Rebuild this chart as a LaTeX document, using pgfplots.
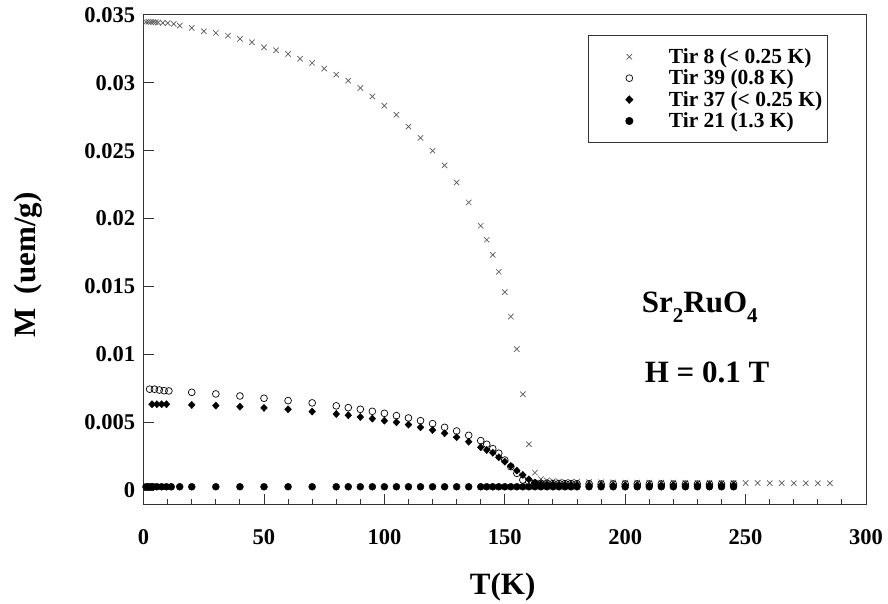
\documentclass[border=0pt]{standalone}
\usepackage{fontspec}
\setmainfont{Liberation Serif}
\usepackage{pgfplots}
\pgfplotsset{compat=1.18}
\newcommand{\sub}[1]{\raisebox{-0.32em}{\fontsize{21}{21}\selectfont #1}}
\begin{document}
\begin{tikzpicture}
\useasboundingbox (-143.6pt,-99pt) rectangle (744.4pt,504pt);
\begin{axis}[
  at={(0pt,0pt)}, anchor=south west,
  width=722.4pt, height=489pt, scale only axis,
  xmin=0, xmax=300, ymin=-0.00103, ymax=0.035,
  axis line style={line width=1pt, black!80},
  tick align=inside, xtick pos=bottom, ytick pos=left,
  xtick={0,50,100,150,200,250,300},
  xticklabels={0,50,100,150,200,250,300},
  minor x tick num=4,
  ytick={0,0.005,0.01,0.015,0.02,0.025,0.03,0.035},
  yticklabels={0,0.005,0.01,0.015,0.02,0.025,0.03,0.035},
  scaled y ticks=false,
  major tick length=10pt, minor tick length=5pt,
  tick style={line width=1pt, black!80},
  ticklabel style={font=\fontsize{22.5}{22.5}\selectfont\bfseries},
  /pgf/number format/assume math mode=true,
  xticklabel style={yshift=-22pt},
  yticklabel style={xshift=-5pt},
  xlabel={T(K)}, ylabel={M\hspace{0.45em}(uem/g)},
  every axis x label/.style={at={(axis description cs:0.497,-0.170)}, anchor=center, font=\fontsize{31}{31}\selectfont\bfseries},
  every axis y label/.style={at={(axis description cs:-0.160,0.489)}, anchor=center, rotate=90, font=\fontsize{31}{31}\selectfont\bfseries},
  legend style={at={(rel axis cs:0.947,0.959)}, anchor=north east, draw=black!80, line width=1pt,
    font=\fontsize{21.5}{21.5}\selectfont\bfseries, inner xsep=3pt, inner ysep=12pt, row sep=3pt,
    nodes={inner ysep=1pt}, cells={anchor=west}},
  legend image code/.code={\path (0pt,0pt) (74pt,0pt); \draw[#1] plot coordinates {(37pt,0pt)};},
]
\addplot[only marks, mark=x, mark size=3.8pt, mark options={black!65, line width=0.7pt}] coordinates {
(1,0.0345)(2,0.0345)(3,0.03449)(4,0.03448)(5,0.03447)(6,0.03445)(8,0.03442)(10,0.0344)(12.5,0.03435)
(15,0.03422)(20,0.03405)(25,0.0338)(30,0.03368)(35,0.03348)(40,0.03324)(45,0.03299)(50,0.03262)
(55,0.0324)(60,0.03213)(65,0.03178)(70,0.03147)(75,0.03105)(80,0.0306)(85,0.03016)(90,0.02962)
(95,0.029)(100,0.02832)(105,0.02765)(110,0.02677)(115,0.02594)(120,0.025)(125,0.02392)(130,0.02266)
(135,0.02119)(140,0.01947)(142.5,0.01844)(145,0.01733)(147.5,0.01608)(150,0.01458)(152.5,0.01278)
(155,0.01038)(157.5,0.00706)(160,0.00337)(162.5,0.00128)(165,0.0008)(167.5,0.0007)(170,0.00065)
(172.5,0.00062)(175,0.0006)(177.5,0.0006)(180,0.0006)(185,0.00058)(190,0.00057)(195,0.00056)
(200,0.00055)(205,0.00055)(210,0.00055)(215,0.00055)(220,0.00055)(225,0.00054)(230,0.00054)
(235,0.00054)(240,0.00053)(245,0.00053)(250,0.00052)(255,0.00052)(260,0.00051)(265,0.00051)
(270,0.0005)(275,0.0005)(280,0.0005)(285,0.0005)
};
\addlegendentry{Tir 8 (< 0.25 K)}
\addplot[only marks, mark=o, mark size=3.4pt, mark options={black, line width=0.7pt}] coordinates {
(2.5,0.00743)(4.5,0.00743)(6.5,0.00737)(8.5,0.00732)(10.5,0.0073)
(20,0.0072)(30,0.00708)(40,0.00693)(50,0.00676)(60,0.00659)(70,0.00642)(80,0.0062)(85,0.00607)
(90,0.00595)(95,0.0058)(100,0.00565)(105,0.00548)(110,0.00531)(115,0.00511)(120,0.00489)
(125,0.00462)(130,0.00435)(135,0.00403)(140,0.00364)(142.5,0.00337)(145,0.00305)(147.5,0.00271)
(150,0.00221)(152.5,0.00172)(155,0.00123)(157.5,0.00074)(160,0.0006)(162.5,0.00052)(165,0.0005)
(167.5,0.0005)(170,0.00048)(172.5,0.00048)(175,0.00047)(177.5,0.00047)(180,0.00046)(185,0.00046)
(190,0.00045)(195,0.00045)(200,0.00045)(205,0.00045)(210,0.00045)(215,0.00045)(220,0.00044)
(225,0.00044)(230,0.00044)(235,0.00044)(240,0.00044)(245,0.00044)
};
\addlegendentry{Tir 39 (0.8 K)}
\addplot[only marks, mark=diamond*, mark size=3.6pt, mark options={black, fill=black, xscale=1.25}] coordinates {
(3.5,0.00632)(5.5,0.00632)(7.5,0.00632)(9.5,0.00632)
(20,0.00627)(30,0.00622)(40,0.00614)(50,0.00605)(60,0.00595)(70,0.00578)(80,0.0056)(85,0.00551)
(90,0.00538)(95,0.00526)(100,0.00511)(105,0.00499)(110,0.00482)(115,0.00462)(120,0.00442)
(125,0.00418)(130,0.00389)(135,0.00356)(140,0.00315)(142.5,0.00295)(145,0.00275)(147.5,0.00241)
(150,0.00209)(152.5,0.00177)(155,0.00143)(157.5,0.00111)(160,0.00079)(162.5,0.00055)(165,0.00045)
(167.5,0.0004)(170,0.0004)(172.5,0.00038)(175,0.00038)(177.5,0.00037)(180,0.00037)(185,0.00036)
(190,0.00036)(195,0.00035)(200,0.00035)(205,0.00035)(210,0.00035)(215,0.00035)(220,0.00035)
(225,0.00035)(230,0.00035)(235,0.00035)(240,0.00035)(245,0.00035)
};
\addlegendentry{Tir 37 (< 0.25 K)}
\addplot[only marks, mark=*, mark size=3.5pt, mark options={black, fill=black}] coordinates {
(1,0.00024)(2,0.00024)(3,0.00024)(4,0.00024)(5.5,0.00024)(7.5,0.00024)(9.5,0.00024)(11.5,0.00024)(15,0.00024)
(20,0.00024)(30,0.00024)(40,0.00024)(50,0.00024)(60,0.00024)(70,0.00024)(80,0.00024)(85,0.00024)
(90,0.00024)(95,0.00024)(100,0.00024)(105,0.00024)(110,0.00024)(115,0.00024)(120,0.00024)
(125,0.00024)(130,0.00024)(135,0.00024)(140,0.00024)(142.5,0.00024)(145,0.00024)(147.5,0.00024)
(150,0.00024)(152.5,0.00024)(155,0.00024)(157.5,0.00024)(160,0.00024)(162.5,0.00024)(165,0.00024)
(167.5,0.00024)(170,0.00024)(172.5,0.00024)(175,0.00024)(177.5,0.00024)(180,0.00024)(185,0.00024)
(190,0.00024)(195,0.00024)(200,0.00024)(205,0.00024)(210,0.00024)(215,0.00024)(220,0.00024)
(225,0.00024)(230,0.00024)(235,0.00024)(240,0.00024)(245,0.00024)
};
\addlegendentry{Tir 21 (1.3 K)}
\node[font=\fontsize{31}{31}\selectfont\bfseries, anchor=center] at (axis cs:231,0.0135) {Sr\sub{2}RuO\sub{4}};
\node[font=\fontsize{31}{31}\selectfont\bfseries, anchor=center] at (axis cs:234,0.0087) {H = 0.1 T};
\end{axis}
\end{tikzpicture}
\end{document}
